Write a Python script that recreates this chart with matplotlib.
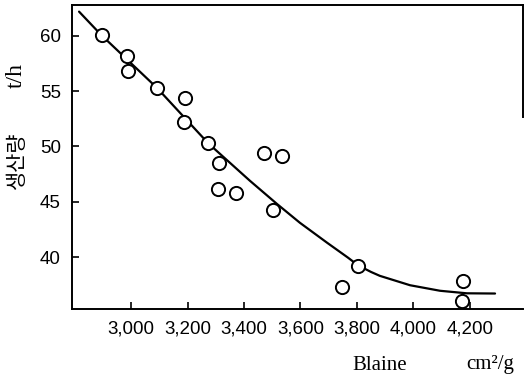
import matplotlib
matplotlib.use("Agg")
import matplotlib.pyplot as plt

# measured points (Blaine cm2/g vs output t/h)
blaine = [2896, 2985, 2988, 3093, 3192, 3188, 3273, 3310, 3308, 3371,
          3471, 3533, 3502, 3804, 3747, 4174, 4172]
output = [60.1, 58.2, 56.8, 55.3, 54.4, 52.2, 50.3, 48.5, 46.2, 45.8,
          49.4, 49.1, 44.3, 39.2, 37.3, 37.8, 36.0]

# trend curve
curve_x = [2816, 2894, 3092, 3273, 3421, 3517, 3598, 3694, 3768, 3804,
           3850, 3881, 3988, 4094, 4189, 4289]
curve_y = [62.2, 60.1, 55.3, 50.3, 46.9, 44.8, 43.1, 41.3, 39.95, 39.25,
           38.65, 38.3, 37.45, 36.95, 36.72, 36.7]

xticks = [3000, 3200, 3400, 3600, 3800, 4000, 4200]
xticklabels = ["3,000", "3,200", "3,400", "3,600", "3,800", "4,000", "4,200"]
yticks = [40, 45, 50, 55, 60]

fig = plt.figure(figsize=(5.25, 3.79), dpi=100)
ax = fig.add_axes([72 / 525, 70 / 379, 451 / 525, 304 / 379])

ax.plot(curve_x, curve_y, color="black", lw=1.6, solid_capstyle="round",
        solid_joinstyle="round")
ax.plot(blaine, output, "o", ms=9.5, mfc="white", mec="black", mew=1.4)

ax.set_xlim(2791, 4388)
ax.set_ylim(35.3, 62.8)
ax.set_xticks(xticks)
ax.set_xticklabels(xticklabels)
ax.set_yticks(yticks)
ax.tick_params(direction="in", length=5, width=1.2, pad=8,
               labelsize=13.5)
for lab in ax.get_xticklabels() + ax.get_yticklabels():
    lab.set_family("Liberation Sans")

for side in ["left", "bottom", "top", "right"]:
    ax.spines[side].set_linewidth(1.4)
ax.spines["right"].set_bounds(52.7, 62.8)

fig.text(16 / 525, 1 - 75 / 379, "t/h", rotation=90, ha="center", va="center",
         fontsize=17, family="Liberation Serif")
fig.text(17 / 525, 1 - 160 / 379, "생산량", rotation=90, ha="center", va="center",
         fontsize=15, family="Noto Sans CJK KR")
fig.text(352 / 525, 1 - 365 / 379, "Blaine", ha="left", va="center",
         fontsize=15, family="Liberation Serif")
fig.text(514 / 525, 1 - 365 / 379, "cm²/g", ha="right", va="center",
         fontsize=15, family="Liberation Serif")

fig.savefig("out.png", dpi=100)
